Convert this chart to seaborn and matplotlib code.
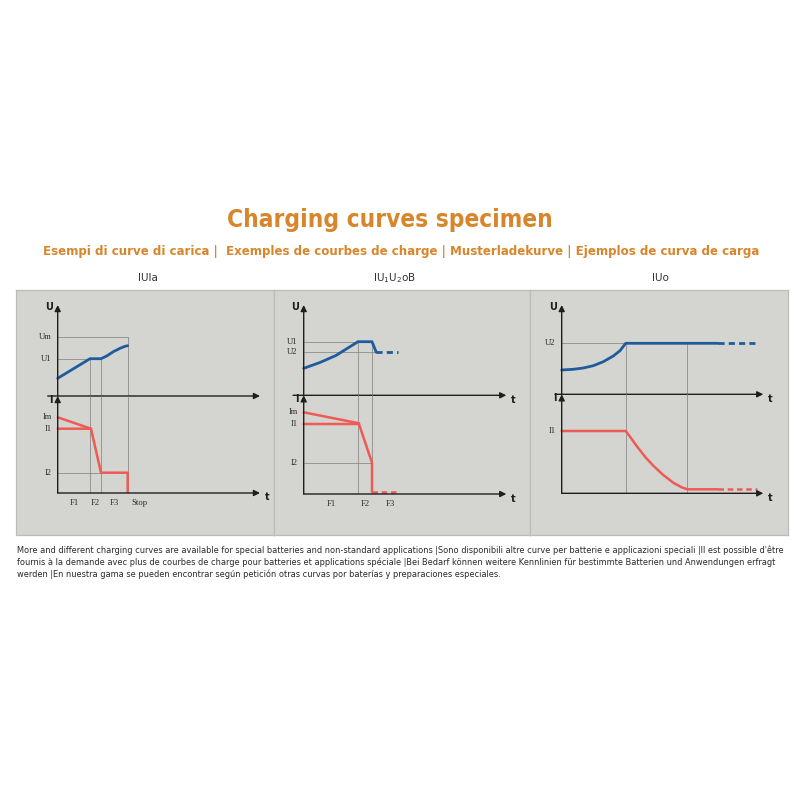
import numpy as np
import matplotlib.pyplot as plt
import seaborn as sns

sns.set_theme(style='white')
plt.rcParams['font.family'] = ['DejaVu Sans']
plt.rcParams['mathtext.default'] = 'regular'

title = 'Charging curves specimen'
subtitle = 'Esempi di curve di carica |  Exemples de courbes de charge | Musterladekurve | Ejemplos de curva de carga'
panel_names = ['IUIa', 'IU$_1$U$_2$oB', 'IUo']
footer = [
    "More and different charging curves are available for special batteries and non-standard applications |Sono disponibili altre curve per batterie e applicazioni speciali |Il est possible d'être",
    "fournis à la demande avec plus de courbes de charge pour batteries et applications spéciale |Bei Bedarf können weitere Kennlinien für bestimmte Batterien und Anwendungen erfragt",
    "werden |En nuestra gama se pueden encontrar según petición otras curvas por baterías y preparaciones especiales.",
]

# panel 1 - IUIa
p1_u_t = [0, 3.23, 4.33, 4.9, 5.56, 6.23, 6.73, 7.0]
p1_u = [1.77, 3.73, 3.73, 4.0, 4.43, 4.77, 4.97, 5.03]
p1_i_t = [0, 3.33, 4.33, 7.0, 7.0]
p1_i = [6.43, 6.43, 2.03, 2.03, 0]
p1_im_t = [0, 3.33]
p1_im = [7.57, 6.43]
p1_u_names = ['Um', 'U1']
p1_u_levels = [5.93, 3.73]
p1_u_ends = [7.0, 3.23]
p1_i_names = ['Im', 'I1', 'I2']
p1_i_levels = [7.57, 6.43, 2.03]
p1_i_ends = [0, 0, 4.33]
p1_marks = [3.23, 4.33, 7.0]
p1_mark_tops = [3.73, 3.73, 5.93]
p1_phases = ['F1', 'F2', 'F3', 'Stop']
p1_phase_edges = [0, 3.23, 4.33, 7.0, 9.3]

# panel 2 - IU1U2oB
p2_u_t = [0, 1.6, 3.26, 4.26, 5.43, 6.83, 7.26]
p2_u = [2.7, 3.27, 4.0, 4.63, 5.36, 5.36, 4.3]
p2_u_dash_t = [7.26, 9.43]
p2_u_dash = [4.3, 4.3]
p2_i_t = [0, 5.53, 6.83, 6.83]
p2_i = [7.0, 7.0, 3.13, 0.23]
p2_im_t = [0, 5.53]
p2_im = [8.17, 7.07]
p2_i_dash_t = [6.83, 9.43]
p2_i_dash = [0.23, 0.23]
p2_u_names = ['U1', 'U2']
p2_u_levels = [5.36, 4.3]
p2_u_ends = [6.83, 7.26]
p2_i_names = ['Im', 'I1', 'I2']
p2_i_levels = [8.17, 7.0, 3.13]
p2_i_ends = [0, 0, 6.83]
p2_marks = [5.43, 6.83]
p2_mark_tops = [5.36, 5.36]
p2_phases = ['F1', 'F2', 'F3']
p2_phase_edges = [0, 5.43, 6.83, 10.4]

# panel 3 - IUo
p3_u_t = [0, 1.16, 2.16, 3.16, 4.16, 5.16, 5.83, 6.4, 15.66]
p3_u = [2.43, 2.5, 2.63, 2.86, 3.26, 3.83, 4.36, 5.1, 5.1]
p3_u_dash_t = [15.66, 19.33]
p3_u_dash = [5.1, 5.1]
p3_i_t = [0, 6.4, 6.83, 7.5, 8.33, 9.16, 10.16, 11.16, 12.0, 12.56, 15.66]
p3_i = [6.23, 6.23, 5.66, 4.73, 3.66, 2.76, 1.83, 1.06, 0.6, 0.4, 0.4]
p3_i_dash_t = [15.66, 19.5]
p3_i_dash = [0.4, 0.4]
p3_u_names = ['U2']
p3_u_levels = [5.1]
p3_u_ends = [6.4]
p3_i_names = ['I1']
p3_i_levels = [6.23]
p3_i_ends = [0]
p3_marks = [6.4, 12.56]
p3_mark_tops = [5.1, 5.1]

BLUE = '#1f5c9c'
RED = '#ef5a55'
GRID = '#8c8c8a'
INK = '#1e1e1e'
ORANGE = '#d8862b'
PANEL = '#d4d4d0'


def rect(l, t, r, b):
    return [l / 800, 1 - b / 800, (r - l) / 800, (b - t) / 800]


fig = plt.figure(figsize=(8, 8), dpi=100)
fig.patch.set_facecolor('white')

# grey background panels
for l, r in [(16, 273.5), (273.5, 530), (530, 788)]:
    bg = fig.add_axes(rect(l, 290, r, 535))
    bg.set_facecolor(PANEL)
    bg.set_xticks([])
    bg.set_yticks([])
    for s in bg.spines.values():
        s.set_color('#bcbcb8')
        s.set_linewidth(0.9)

fig.text(390 / 800, 1 - 220 / 800, title, ha='center', va='center', fontsize=17.5,
         fontweight='bold', color=ORANGE, fontstretch='condensed')
fig.text(401 / 800, 1 - 251 / 800, subtitle, ha='center', va='center', fontsize=9.45,
         fontweight='bold', color=ORANGE, fontstretch='condensed')
for name, cx in zip(panel_names, [148, 395, 660]):
    fig.text(cx / 800, 1 - 278 / 800, name, ha='center', va='center', fontsize=7.5, color='#333333')
for k, line in enumerate(footer):
    fig.text(17 / 800, 1 - (550 + 12 * k) / 800, line, ha='left', va='center', fontsize=5.95, color='#2a2a2a')

serif = {'family': 'Liberation Serif', 'size': 6.2, 'color': '#2a2a2a'}


def arrows(ax, x_start, upper_t):
    x0, x1 = ax.get_xlim()
    y1 = ax.get_ylim()[1]
    ap = dict(arrowstyle='-|>', color=INK, lw=1.0, mutation_scale=9, shrinkA=0, shrinkB=0)
    ax.annotate('', xy=(x1, 0), xytext=(x_start, 0), arrowprops=ap, annotation_clip=False)
    ax.annotate('', xy=(0, y1), xytext=(0, 0), arrowprops=ap, annotation_clip=False)
    if upper_t:
        ax.text(x1 + 0.45, -0.45, 't', ha='left', va='center', fontsize=7, fontweight='bold', color=INK)


def panel(x0, x_left, x_right, y_up, y_lo, u_t, u, i_t, i, u_names, u_levels, u_ends,
          i_names, i_levels, i_ends, marks, mark_tops, t_upper=True, u_dash=None, i_dash=None, im=None):
    xlim = ((x_left - x0) / 10, (x_right - x0) / 10)
    ax_u = fig.add_axes(rect(x_left, 305, x_right, y_up))
    ax_i = fig.add_axes(rect(x_left, y_up, x_right, y_lo))
    for ax, top in [(ax_u, (y_up - 305) / 10), (ax_i, (y_lo - y_up) / 10)]:
        ax.set_xlim(*xlim)
        ax.set_ylim(0, top)
        ax.patch.set_alpha(0)
        ax.axis('off')

    # reference lines
    for lev, end in zip(u_levels, u_ends):
        ax_u.plot([0, end], [lev, lev], color=GRID, lw=0.6)
    for lev, end in zip(i_levels, i_ends):
        if end > 0:
            ax_i.plot([0, end], [lev, lev], color=GRID, lw=0.6)
    for m, top in zip(marks, mark_tops):
        ax_u.plot([m, m], [0, top], color=GRID, lw=0.6)
        ax_i.plot([m, m], [0, ax_i.get_ylim()[1]], color=GRID, lw=0.6)

    # curves
    sns.lineplot(x=u_t, y=u, ax=ax_u, color=BLUE, linewidth=2.0, estimator=None, sort=False)
    sns.lineplot(x=i_t, y=i, ax=ax_i, color=RED, linewidth=1.8, estimator=None, sort=False)
    if im is not None:
        sns.lineplot(x=im[0], y=im[1], ax=ax_i, color=RED, linewidth=1.8, estimator=None, sort=False)
    if u_dash is not None:
        ax_u.plot(u_dash[0], u_dash[1], color=BLUE, lw=2.0, ls=(0, (2.2, 1.5)))
    if i_dash is not None:
        ax_i.plot(i_dash[0], i_dash[1], color=RED, lw=1.8, ls=(0, (2.2, 1.5)))

    arrows(ax_u, xlim[0], t_upper)
    arrows(ax_i, 0, True)
    ax_u.text(-0.5, ax_u.get_ylim()[1] - 0.15, 'U', ha='right', va='center', fontsize=7,
              fontweight='bold', color=INK)
    ax_i.text(-0.5, ax_i.get_ylim()[1] - 0.4, 'I', ha='right', va='center', fontsize=7,
              fontweight='bold', color=INK)
    for name, lev in zip(u_names, u_levels):
        ax_u.text(-0.6, lev, name, ha='right', va='center', fontdict=serif)
    for name, lev in zip(i_names, i_levels):
        ax_i.text(-0.6, lev, name, ha='right', va='center', fontdict=serif)
    return ax_u, ax_i


a1u, a1i = panel(57.7, 47.7, 260, 396, 493, p1_u_t, p1_u, p1_i_t, p1_i, p1_u_names, p1_u_levels,
                 p1_u_ends, p1_i_names, p1_i_levels, p1_i_ends, p1_marks, p1_mark_tops,
                 t_upper=False, im=(p1_im_t, p1_im))
for name, a, b in zip(p1_phases, p1_phase_edges[:-1], p1_phase_edges[1:]):
    a1i.text((a + b) / 2, -1.0, name, ha='center', va='center', fontdict=serif)

a2u, a2i = panel(303.7, 293, 506.3, 395.3, 494, p2_u_t, p2_u, p2_i_t, p2_i, p2_u_names, p2_u_levels,
                 p2_u_ends, p2_i_names, p2_i_levels, p2_i_ends, p2_marks, p2_mark_tops,
                 u_dash=(p2_u_dash_t, p2_u_dash), i_dash=(p2_i_dash_t, p2_i_dash), im=(p2_im_t, p2_im))
for name, a, b in zip(p2_phases, p2_phase_edges[:-1], p2_phase_edges[1:]):
    a2i.text((a + b) / 2, -0.95, name, ha='center', va='center', fontdict=serif)

a3u, a3i = panel(561.7, 555, 763.3, 394.3, 493.3, p3_u_t, p3_u, p3_i_t, p3_i, p3_u_names, p3_u_levels,
                 p3_u_ends, p3_i_names, p3_i_levels, p3_i_ends, p3_marks, p3_mark_tops,
                 u_dash=(p3_u_dash_t, p3_u_dash), i_dash=(p3_i_dash_t, p3_i_dash))

fig.savefig('out.png', dpi=100, facecolor='white')
